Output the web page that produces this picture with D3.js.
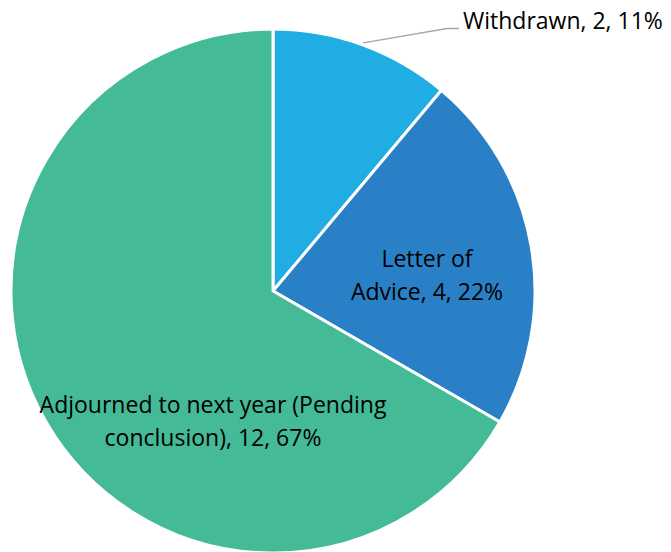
<!DOCTYPE html>
<html>
<head>
<meta charset="utf-8">
<script src="https://cdn.jsdelivr.net/npm/d3@7"></script>
<style>
  html, body { margin: 0; padding: 0; background: #fff; }
  svg { display: block; }
  text { font-family: "Open Sans", Lato, sans-serif; fill: #000; }
</style>
</head>
<body>
<svg id="chart" width="671" height="552"></svg>
<script>
// Case outcomes
const categories = ["Withdrawn", "Letter of Advice", "Adjourned to next year (Pending conclusion)"];
const counts = [2, 4, 12];
const colors = ["#1FADE4", "#2A80C6", "#44BA96"];
// label lines as drawn on the chart
const labelLines = [
  ["Withdrawn, 2, 11%"],
  ["Letter of", "Advice, 4, 22%"],
  ["Adjourned to next year (Pending", "conclusion), 12, 67%"]
];

const width = 671, height = 552;
const cx = 273, cy = 291, radius = 262;

const svg = d3.select("#chart");
const g = svg.append("g").attr("transform", `translate(${cx},${cy})`);

const data = categories.map((c, i) => ({ name: c, value: counts[i], color: colors[i], lines: labelLines[i] }));

const pie = d3.pie().value(d => d.value).sort(null);
const arcs = pie(data);
const arc = d3.arc().innerRadius(0).outerRadius(radius);

g.selectAll("path.slice")
  .data(arcs)
  .join("path")
  .attr("class", "slice")
  .attr("d", arc)
  .attr("fill", d => d.data.color)
  .attr("stroke", "#fff")
  .attr("stroke-width", 3)
  .attr("stroke-linejoin", "round");

const fontSize = 23, lineH = 33;

// Outside label with leader line for the small slice
const a0 = arcs[0];
const mid0 = (a0.startAngle + a0.endAngle) / 2;
const edge = [Math.sin(mid0) * (radius + 2), -Math.cos(mid0) * (radius + 2)];
const elbow = [447 - cx, 28.5 - cy];
const tail = [459 - cx, 28.5 - cy];
g.append("polyline")
  .attr("points", [edge, elbow, tail].map(p => p.join(",")).join(" "))
  .attr("fill", "none")
  .attr("stroke", "#A6A6A6")
  .attr("stroke-width", 1.3);
g.append("text")
  .attr("x", tail[0] + 4)
  .attr("y", 29 - cy)
  .attr("font-size", fontSize)
  .text(a0.data.lines[0]);

// Inside labels: centre x and baseline of the first line
const inner = [null, [427 - cx, 267 - cy], [213 - cx, 413 - cy]];
arcs.forEach((a, i) => {
  if (!inner[i]) return;
  const t = g.append("text")
    .attr("text-anchor", "middle")
    .attr("font-size", fontSize);
  a.data.lines.forEach((line, k) => {
    t.append("tspan")
      .attr("x", inner[i][0])
      .attr("y", inner[i][1] + k * lineH)
      .text(line);
  });
});
</script>
</body>
</html>
